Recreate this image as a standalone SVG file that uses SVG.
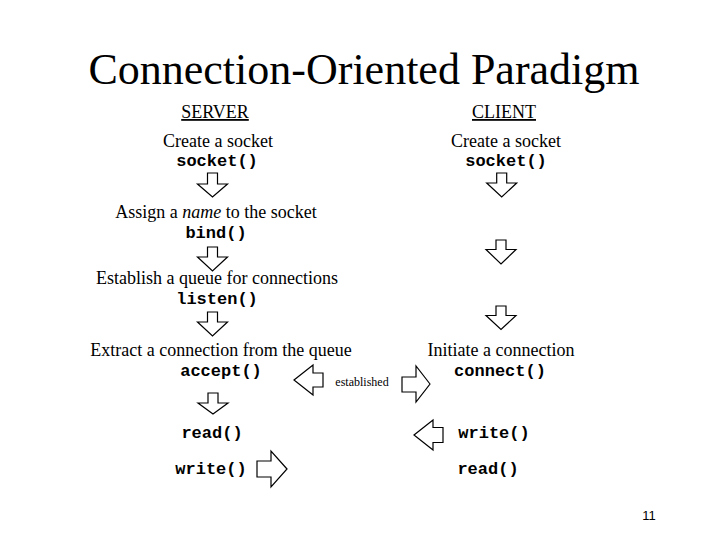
<svg xmlns="http://www.w3.org/2000/svg" width="720" height="540" viewBox="0 0 720 540">
<style>
.t{font-family:"Liberation Serif","Times New Roman",serif;fill:#000;text-anchor:middle}
.h{font-size:18px}
.m{font-family:"Liberation Mono","Courier New",monospace;font-weight:bold;font-size:17px;fill:#000;text-anchor:middle}
.a{fill:#fff;stroke:#000;stroke-width:1.2;stroke-linejoin:miter}
</style>
<rect width="720" height="540" fill="#fff"/>
<text class="t" x="364" y="84" font-size="44">Connection-Oriented Paradigm</text>
<g id="server">
<text class="t h" x="215" y="118" text-decoration="underline">SERVER</text>
<g id="s-socket"><text class="t h" x="218" y="147">Create a socket</text><text class="m" x="217" y="166">socket()</text></g>
<g id="s-bind"><text class="t h" x="216" y="218">Assign a <tspan font-style="italic">name</tspan> to the socket</text><text class="m" x="216" y="238">bind()</text></g>
<g id="s-listen"><text class="t h" x="217" y="284">Establish a queue for connections</text><text class="m" x="217" y="304">listen()</text></g>
<g id="s-accept"><text class="t h" x="221" y="356">Extract a connection from the queue</text><text class="m" x="221" y="376">accept()</text></g>
<g id="s-read"><text class="m" x="212" y="438">read()</text></g>
<g id="s-write"><text class="m" x="211" y="474">write()</text></g>
</g>
<g id="client">
<text class="t h" x="504" y="118" text-decoration="underline">CLIENT</text>
<g id="c-socket"><text class="t h" x="506" y="147">Create a socket</text><text class="m" x="506" y="166">socket()</text></g>
<g id="c-connect"><text class="t h" x="501" y="356">Initiate a connection</text><text class="m" x="500" y="376">connect()</text></g>
<g id="c-write"><text class="m" x="494" y="438">write()</text></g>
<g id="c-read"><text class="m" x="488" y="474">read()</text></g>
</g>
<g id="connectors">
<polygon class="a" points="207.5,173 217.5,173 217.5,184 227.5,184 212.5,197 197.5,184 207.5,184"/>
<polygon class="a" points="207.5,247 217.5,247 217.5,257 227.5,257 212.5,271 197.5,257 207.5,257"/>
<polygon class="a" points="207.5,312 217.5,312 217.5,322 227.5,322 212.5,336 197.5,322 207.5,322"/>
<polygon class="a" points="208,393 218,393 218,403 228,403 213,414 198,403 208,403"/>
<polygon class="a" points="496.7,173 506.7,173 506.7,183 516.7,183 501.7,197 486.7,183 496.7,183"/>
<polygon class="a" points="496,240 506,240 506,249.5 516,249.5 501,264 486,249.5 496,249.5"/>
<polygon class="a" points="496,306 506,306 506,315.5 516,315.5 501,329.5 486,315.5 496,315.5"/>
<polygon class="a" points="294,380 313,365 313,373 323,373 323,387 313,387 313,395"/>
<polygon class="a" points="430,384 416,366 416,377 402,377 402,392 416,392 416,402"/>
<polygon class="a" points="287,469 271,451 271,461 257,461 257,477 271,477 271,487"/>
<polygon class="a" points="414,435 433,420 433,427.5 443,427.5 443,442.5 433,442.5 433,450"/>
<text class="t" x="362" y="386" font-size="12">established</text>
</g>
<text x="649" y="520" font-family="Liberation Sans,Arial,sans-serif" font-size="13" text-anchor="middle">11</text>
</svg>
